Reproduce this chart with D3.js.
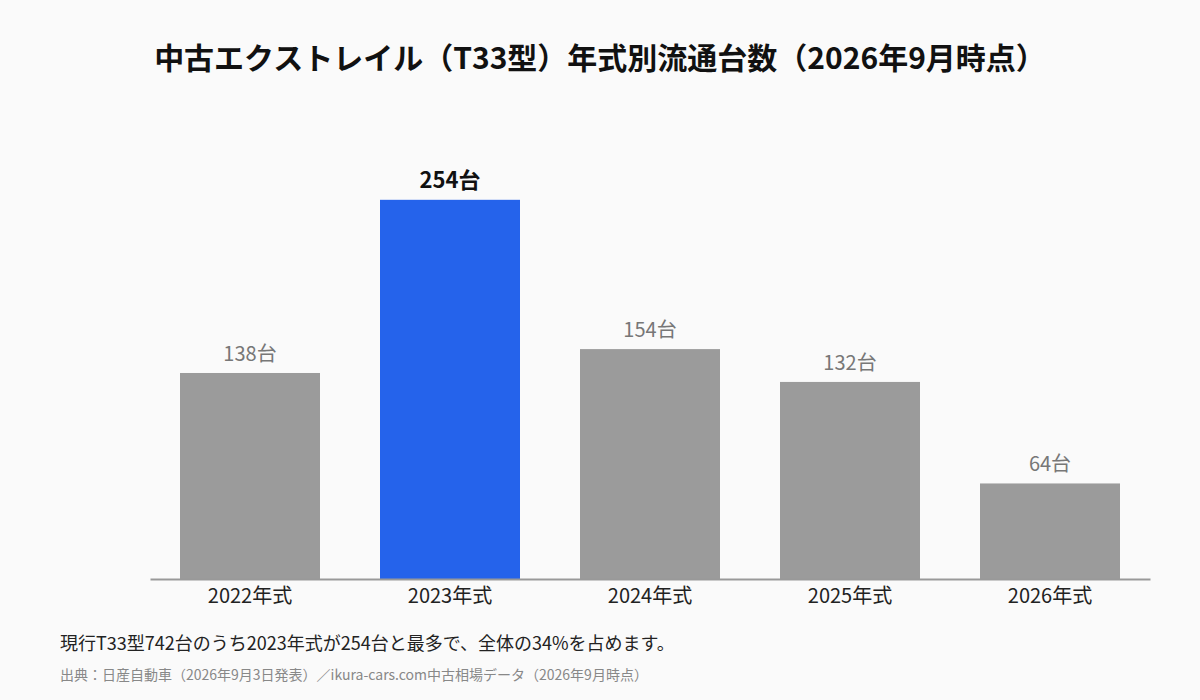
<!DOCTYPE html>
<html>
<head>
<meta charset="utf-8">
<script src="https://cdn.jsdelivr.net/npm/d3@7.9.0/dist/d3.min.js"></script>
<style>
  html, body { margin: 0; padding: 0; background: #fafafa; }
  svg { display: block; font-family: 'Noto Sans CJK JP', 'Noto Sans', sans-serif; }
</style>
</head>
<body>
<svg id="chart" width="1200" height="700"></svg>
<script>
// data
const years = ['2022年式', '2023年式', '2024年式', '2025年式', '2026年式'];
const counts = [138, 254, 154, 132, 64];
const highlight = '2023年式';

const title = '中古エクストレイル（T33型）年式別流通台数（2026年9月時点）';
const note = '現行T33型742台のうち2023年式が254台と最多で、全体の34%を占めます。';
const source = '出典：日産自動車（2026年9月3日発表）／ikura-cars.com中古相場データ（2026年9月時点）';

const svg = d3.select('#chart');
const W = 1200;
const margin = { left: 150, right: 50, top: 161, bottom: 121 };
const baseY = 700 - margin.bottom;

svg.append('rect').attr('width', W).attr('height', 700).attr('fill', '#fafafa');

// title
svg.append('text')
  .attr('x', W / 2).attr('y', 69)
  .attr('text-anchor', 'middle')
  .attr('font-size', 30).attr('font-weight', 700).attr('fill', '#111')
  .text(title);

const x = d3.scaleBand()
  .domain(years)
  .range([margin.left, W - margin.right])
  .paddingInner(0.3)
  .paddingOuter(0.15);

const y = d3.scaleLinear()
  .domain([0, 280])
  .range([baseY, margin.top]);

const data = years.map((yr, i) => ({ year: yr, value: counts[i] }));

// bars
svg.selectAll('rect.bar')
  .data(data)
  .join('rect')
  .attr('class', 'bar')
  .attr('x', d => x(d.year))
  .attr('y', d => y(d.value))
  .attr('width', x.bandwidth())
  .attr('height', d => baseY - y(d.value))
  .attr('fill', d => d.year === highlight ? '#2563eb' : '#9b9b9b');

// value labels
svg.selectAll('text.val')
  .data(data)
  .join('text')
  .attr('class', 'val')
  .attr('x', d => x(d.year) + x.bandwidth() / 2)
  .attr('y', d => y(d.value) - 12)
  .attr('text-anchor', 'middle')
  .attr('font-size', d => d.year === highlight ? 22 : 20)
  .attr('font-weight', d => d.year === highlight ? 700 : 400)
  .attr('fill', d => d.year === highlight ? '#111' : '#777')
  .text(d => d.value + '台');

// x axis
const xAxis = svg.append('g')
  .attr('transform', `translate(0,${baseY})`)
  .call(d3.axisBottom(x).tickSize(0).tickPadding(10));
xAxis.select('.domain').attr('stroke', '#999').attr('stroke-width', 2);
xAxis.selectAll('text')
  .attr('font-size', 20).attr('fill', '#222')
  .attr('font-family', "'Noto Sans CJK JP', 'Noto Sans', sans-serif");

// footnotes
svg.append('text')
  .attr('x', 60).attr('y', 650)
  .attr('font-size', 18).attr('fill', '#222')
  .text(note);

svg.append('text')
  .attr('x', 60).attr('y', 680)
  .attr('font-size', 14).attr('fill', '#888')
  .text(source);
</script>
</body>
</html>
